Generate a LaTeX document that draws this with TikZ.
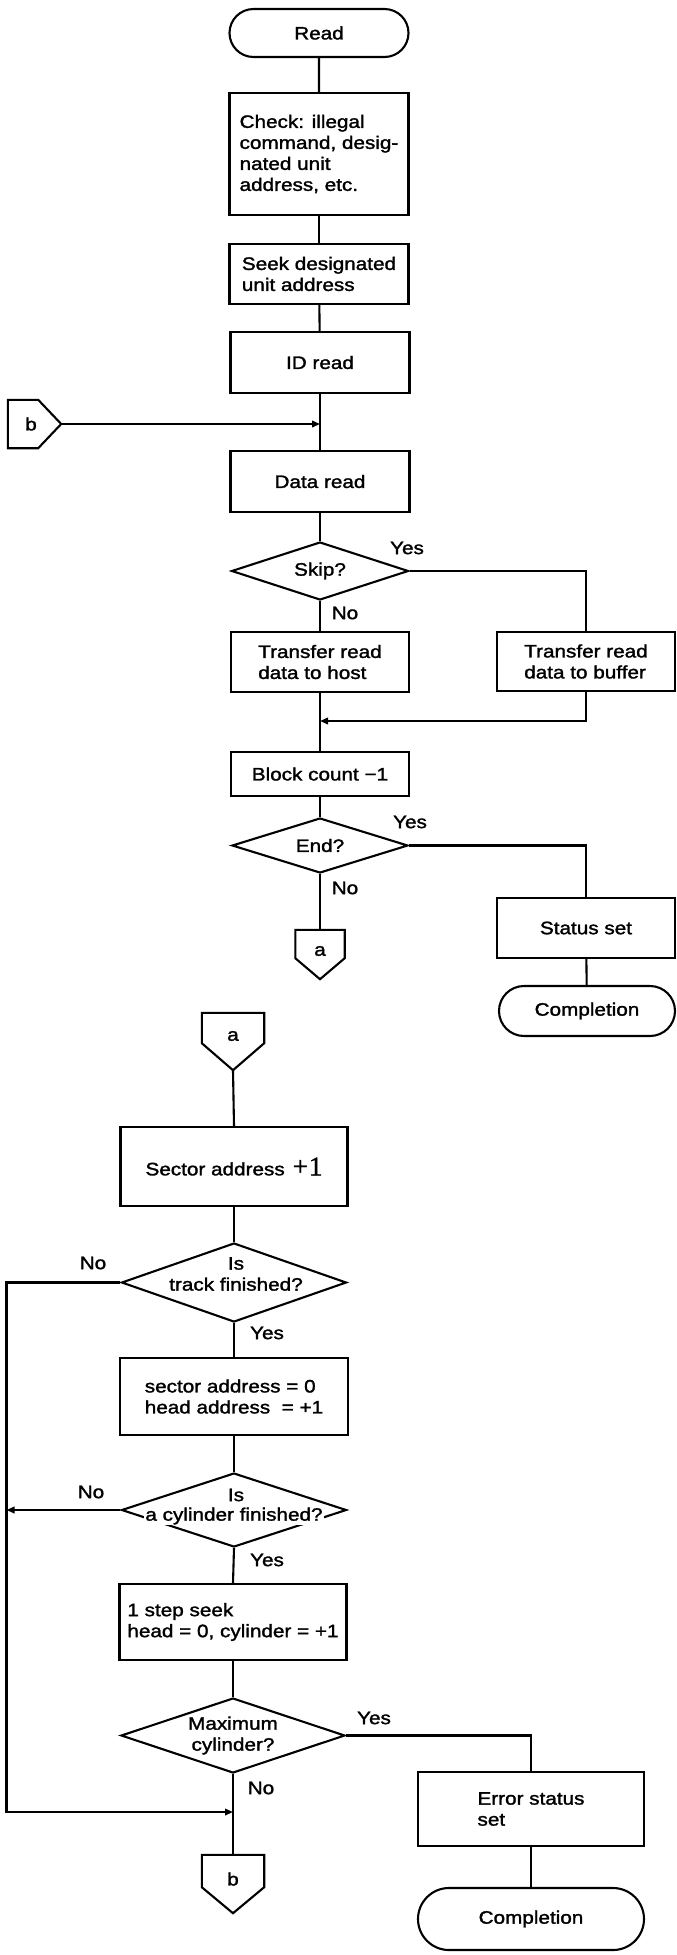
\documentclass[tikz,border=0pt]{standalone}
\usepackage[no-math]{fontspec}
\setmainfont{Liberation Sans}[FakeStretch=1.15,FakeBold=1.6]
\newfontfamily\plusfont{Liberation Serif}[FakeBold=1.2]
\usetikzlibrary{shapes.geometric,shapes.misc,arrows.meta,calc}

\newcommand\flowfont{\fontsize{18}{21}\selectfont}

\tikzset{
  flow/.style={line width=2.1pt, line join=miter},
  arr/.style={flow, -{Triangle[length=8pt,width=6.5pt]}},
  proc/.style={draw, line width=2.1pt, rectangle, inner sep=0pt, align=left, font=\flowfont},
  term/.style={draw, line width=2.1pt, rounded rectangle, inner sep=0pt, font=\flowfont},
  dec/.style={draw, line width=2.1pt, diamond, inner sep=0pt},
  txt/.style={inner sep=0pt, align=center, font=\flowfont},
  tag/.style={inner sep=0pt, font=\flowfont},
  body/.style={inner sep=0pt},
}

\begin{document}
\begin{tikzpicture}[x=1pt,y=-1pt]
\useasboundingbox (0,0) rectangle (677,1955);

% ---------- read sequence ----------
\node[term, minimum width=179pt, minimum height=48pt] (read) at (319,33) {Read};
\node[proc, minimum width=179pt, minimum height=122pt] (check) at (319,154)
  {Check: illegal\\command, desig-\\nated unit\\address, etc.};
\node[proc, minimum width=179pt, minimum height=60pt] (seek) at (319,274)
  {Seek designated\\unit address};
\node[proc, minimum width=179pt, minimum height=61pt] (idread) at (320,362.5) {ID read};
\node[proc, minimum width=179pt, minimum height=61pt] (dataread) at (320,481.5) {Data read};

\node[dec, minimum width=177pt, minimum height=58pt] (skip) at (320,571) {};
\node[txt] (skipt) at (skip.center) {Skip?};

\node[proc, minimum width=178pt, minimum height=60pt] (host) at (320,662)
  {Transfer read\\data to host};
\node[proc, minimum width=178pt, minimum height=59pt] (buffer) at (586,661.5)
  {Transfer read\\data to buffer};

\node[proc, minimum width=178pt, minimum height=44pt] (block) at (320,774) {Block count −1};

\node[dec, minimum width=176pt, minimum height=55pt] (endq) at (320,845.5) {};
\node[txt] (endt) at (endq.center) {End?};

\node[proc, minimum width=178pt, minimum height=60pt] (status) at (586,928) {Status set};
\node[term, minimum width=176pt, minimum height=50pt] (comp1) at (587,1011) {Completion};

% off-page connector a (outgoing)
\node[body, minimum width=49pt, minimum height=28pt] (a1) at (320,944) {};
\draw[flow] (a1.north west) -- (a1.north east) -- (a1.south east)
  -- ([yshift=-21pt]a1.south) -- (a1.south west) -- cycle;
\node[tag] (a1t) at (320,951) {a};

% off-page connector b (incoming)
\node[body, minimum width=30pt, minimum height=48pt] (b1) at (23,424) {};
\coordinate (b1tip) at ([xshift=23pt]b1.east);
\draw[flow] (b1.north west) -- (b1.north east) -- (b1tip)
  -- (b1.south east) -- (b1.south west) -- cycle;
\node[tag] (b1t) at (31,424) {b};

\coordinate (m0) at (320,424);
\coordinate (m1) at (320,721);

\draw[flow] (read) -- (check);
\draw[flow] (check) -- (seek);
\draw[flow] (seek) -- (idread);
\draw[flow] (idread) -- (dataread);
\draw[arr] (b1tip) -- (m0);
\draw[flow] (dataread) -- (skip);
\draw[flow] (skip.east) -| (buffer.north);
\draw[flow] (skip.south) -- (host.north);
\draw[flow] (host) -- (block);
\draw[arr] (buffer.south) |- (m1);
\draw[flow] (block) -- (endq.north);
\draw[flow] (endq.east) -| (status.north);
\draw[flow] (status) -- (comp1);
\draw[flow] (endq.south) -- (a1.north);

\node[tag] (yes1) at (407,548) {Yes};
\node[tag] (no1) at (345,613) {No};
\node[tag] (yes2) at (410,822) {Yes};
\node[tag] (no2) at (345,888) {No};

% ---------- sector / head / cylinder stepping ----------
% off-page connector a (incoming)
\node[body, minimum width=62pt, minimum height=30pt] (a2) at (233,1028) {};
\coordinate (a2tip) at ([yshift=-27pt]a2.south);
\draw[flow] (a2.north west) -- (a2.north east) -- (a2.south east)
  -- (a2tip) -- (a2.south west) -- cycle;
\node[tag] (a2t) at (233,1036) {a};

\node[proc, minimum width=227pt, minimum height=79pt] (sector) at (234,1166.5)
  {Sector address\hspace{8pt}{\plusfont\fontsize{27}{27}\selectfont +\hspace{1pt}1}};

\node[dec, minimum width=225pt, minimum height=79pt] (track) at (234,1282.5) {};
\node[txt] (trackt) at (236,1274) {Is\\track finished?};

\node[proc, minimum width=228pt, minimum height=77pt] (zero) at (234,1396.5)
  {sector address = 0\\head address\ \ = +1};

\node[dec, minimum width=225pt, minimum height=74pt] (cyl) at (234,1510) {};
\node[txt] (cylt1) at (236,1495) {Is};
\node[txt, fill=white, inner sep=1pt] (cylt2) at (234,1516) {a cylinder finished?};

\node[proc, minimum width=227pt, minimum height=76pt] (stepseek) at (233,1622)
  {1 step seek\\head = 0, cylinder = +1};

\node[dec, minimum width=224pt, minimum height=75pt] (maxq) at (233,1735.5) {};
\node[txt] (maxt) at (233,1735.5) {Maximum\\cylinder?};

\node[proc, minimum width=226pt, minimum height=74pt] (error) at (531,1809)
  {Error status\\set};
\node[term, minimum width=226pt, minimum height=62pt] (comp2) at (531,1919) {Completion};

% off-page connector b (outgoing)
\node[body, minimum width=62pt, minimum height=32pt] (b2) at (233,1871) {};
\draw[flow] (b2.north west) -- (b2.north east) -- (b2.south east)
  -- ([yshift=-26pt]b2.south) -- (b2.south west) -- cycle;
\node[tag] (b2t) at (233,1879) {b};

\coordinate (fbx) at (6.5,0);
\coordinate (m2) at (233,1812);

\draw[flow] (a2tip) -- (sector.north);
\draw[flow] (sector) -- (track.north);
\draw[flow] (track.south) -- (zero.north);
\draw[flow] (zero) -- (cyl.north);
\draw[flow] (cyl.south) -- (stepseek.north);
\draw[flow] (stepseek) -- (maxq.north);
\draw[flow] (maxq.south) -- (b2.north);
\draw[arr] (track.west) -- (track.west -| fbx) |- (m2);
\draw[arr] (cyl.west) -- (cyl.west -| fbx);
\draw[flow] (maxq.east) -| (error.north);
\draw[flow] (error) -- (comp2);

\node[tag] (no3) at (93,1263) {No};
\node[tag] (yes3) at (267,1333) {Yes};
\node[tag] (no4) at (91,1492) {No};
\node[tag] (yes4) at (267,1560) {Yes};
\node[tag] (yes5) at (374,1718) {Yes};
\node[tag] (no5) at (261,1788) {No};
\end{tikzpicture}
\end{document}
